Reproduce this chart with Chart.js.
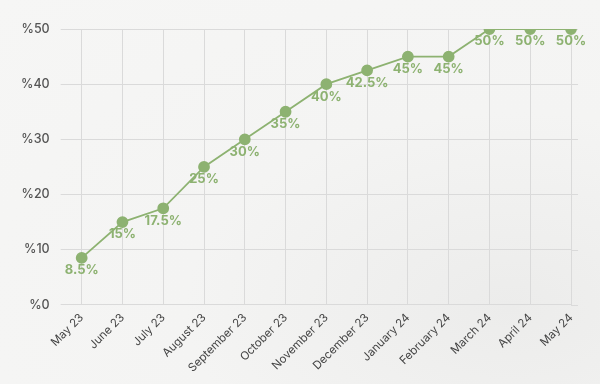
<!DOCTYPE html>
<html><head><meta charset="utf-8">
<script src="https://cdn.jsdelivr.net/npm/chart.js@4.4.1/dist/chart.umd.min.js"></script>
<style>
html,body{margin:0;padding:0;background:#f3f3f2;}
#wrap{width:600px;height:384px;position:relative;background:radial-gradient(ellipse at 85% 80%, #ececeb 0%, #f4f4f3 45%, #f6f6f5 100%);}
</style></head>
<body><div id="wrap"><canvas id="c" width="600" height="384"></canvas></div>
<script>
const categories = ["May 23","June 23","July 23","August 23","September 23","October 23","November 23","December 23","January 24","February 24","March 24","April 24","May 24"];
const values = [8.5,15,17.5,25,30,35,40,42.5,45,45,50,50,50];
const valueLabels = ["8.5%","15%","17.5%","25%","30%","35%","40%","42.5%","45%","45%","50%","50%","50%"];
const yTicks = [0,10,20,30,40,50];

const green = '#8db271';

const labelPlugin = {
  id:'valueLabels',
  afterDatasetsDraw(chart){
    const ctx = chart.ctx;
    const meta = chart.getDatasetMeta(0);
    ctx.save();
    ctx.font = 'bold 13px Inter, "Noto Sans", sans-serif';
    ctx.fillStyle = green;
    ctx.textAlign = 'center';
    ctx.textBaseline = 'middle';
    meta.data.forEach((p,i)=>{
      ctx.fillText(valueLabels[i], p.x, p.y + 12.5);
    });
    ctx.restore();
  }
};
const extendPlugin = {
  id:'extendGrid',
  beforeDatasetsDraw(chart){
    const ctx = chart.ctx, y = chart.scales.y, a = chart.chartArea;
    ctx.save();
    ctx.strokeStyle = '#dadada';
    ctx.lineWidth = 1;
    yTicks.forEach(v=>{
      const py = Math.round(y.getPixelForValue(v)) + 0.5;
      ctx.beginPath(); ctx.moveTo(a.right, py); ctx.lineTo(a.right + 7, py); ctx.stroke();
    });
    ctx.restore();
  }
};

new Chart(document.getElementById('c'), {
  type:'line',
  data:{
    labels:categories,
    datasets:[{
      data:values,
      borderColor:green,
      backgroundColor:green,
      borderWidth:1.8,
      pointRadius:5,
      pointHoverRadius:5,
      pointBackgroundColor:green,
      pointBorderColor:green,
      tension:0
    }]
  },
  options:{
    responsive:false,
    animation:false,
    layout:{padding:{left:10,right:29,top:29,bottom:3}},
    plugins:{legend:{display:false},tooltip:{enabled:false}},
    scales:{
      x:{
        offset:false,
        grid:{color:'#dadada',drawTicks:false,lineWidth:1},
        border:{display:false},
        ticks:{
          font:{size:11.5,family:'Inter, "Noto Sans", sans-serif'},
          color:'#444',
          minRotation:45,maxRotation:45,
          padding:6,autoSkip:false
        }
      },
      y:{
        min:0,max:50,
        afterBuildTicks(s){ s.ticks = yTicks.map(v=>({value:v})); },
        grid:{color:'#dadada',tickLength:21,lineWidth:1},
        border:{display:false},
        ticks:{
          font:{size:12.5,family:'Inter, "Noto Sans", sans-serif',weight:'500'},
          color:'#555',
          padding:11,
          callback:(v)=>'%'+v
        }
      }
    }
  },
  plugins:[extendPlugin,labelPlugin]
});
</script>
</body></html>
